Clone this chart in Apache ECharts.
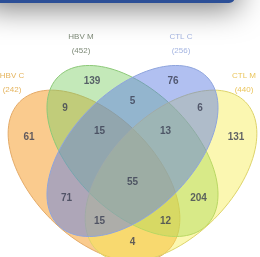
<!DOCTYPE html>
<html>
<head>
<meta charset="utf-8">
<script src="https://cdn.jsdelivr.net/npm/echarts@6/dist/echarts.min.js"></script>
<style>
  html, body { margin: 0; padding: 0; background: #fff; }
  #venn { width: 260px; height: 257px; }
</style>
</head>
<body>
<div id="venn"></div>
<script>
// sets (order: A, B, C, D)
var setNames = ["HBV C", "HBV M", "CTL C", "CTL M"];
var setTotals = [242, 452, 256, 440];
// regions: which sets a region belongs to, and its count
var regionSets = ["A", "B", "C", "D", "AB", "BC", "CD", "ABC", "BCD", "ABCD", "AC", "BD", "ACD", "ABD", "AD"];
var regionCounts = [61, 139, 76, 131, 9, 5, 6, 15, 13, 55, 71, 204, 15, 12, 4];

// look (index = set)
var fillColors = ["rgba(246,160,50,0.55)", "rgba(120,205,95,0.44)", "rgba(100,130,228,0.5)", "rgba(245,235,70,0.42)"];
var lineColors = ["#e3aa68", "#8cc878", "#8ea4dc", "#ddd36a"];
var labelColors = ["#dea136", "#5d6b55", "#8ea3da", "#e5b52f"];
var drawOrder = [0, 1, 3, 2]; // orange, green, yellow, then blue on top

// ellipse geometry in plot units (x right, y down)
var shapes = [
  { cx: 94, cy: 176, a: 105, b: 61, rot: 45 },
  { cx: 132.5, cy: 151, a: 105, b: 60, rot: 45 },
  { cx: 132.5, cy: 151, a: 105, b: 60, rot: -45 },
  { cx: 171, cy: 176, a: 105, b: 61, rot: -45 }
];
var titlePos = [[12, 76], [81, 37], [181, 37], [244, 76]];

function local(s, x, y) {
  var r = s.rot * Math.PI / 180;
  var dx = x - s.cx, dy = y - s.cy;
  return [dx * Math.cos(r) + dy * Math.sin(r), -dx * Math.sin(r) + dy * Math.cos(r)];
}
function edgeDist(s, x, y) {
  var p = local(s, x, y);
  var F = Math.sqrt(p[0] * p[0] / (s.a * s.a) + p[1] * p[1] / (s.b * s.b));
  var g = Math.sqrt(p[0] * p[0] / Math.pow(s.a, 4) + p[1] * p[1] / Math.pow(s.b, 4));
  if (g < 1e-9) return { inside: true, d: s.b };
  return { inside: F < 1, d: Math.abs(F - 1) * F / g };
}

// put each count in a wide part of its region, leaning a bit upwards
var labelData = regionSets.map(function (key, i) {
  var best = null, bestS = -1e9;
  for (var x = 2; x <= 258; x += 1.5) {
    for (var y = 2; y <= 255; y += 1.5) {
      var ok = true, dmin = Math.min(x, 260 - x, y, 257 - y);
      for (var k = 0; k < 4 && ok; k++) {
        var e = edgeDist(shapes[k], x, y);
        if (e.inside !== (key.indexOf("ABCD"[k]) >= 0)) ok = false;
        dmin = Math.min(dmin, e.d);
      }
      var score = dmin - 0.15 * y;
      if (ok && dmin > 6 && score > bestS) { bestS = score; best = [x, y]; }
    }
  }
  return [best[0], best[1], regionCounts[i]];
});

var chart = echarts.init(document.getElementById("venn"), null, { renderer: "canvas" });
chart.setOption({
  animation: false,
  grid: { left: 0, right: 0, top: 0, bottom: 0 },
  xAxis: { type: "value", min: 0, max: 260, show: false },
  yAxis: { type: "value", min: 0, max: 257, inverse: true, show: false },
  graphic: [{
    type: "rect",
    shape: { x: -20, y: -60, width: 255, height: 63, r: 6 },
    style: { fill: "#2c4f97", shadowBlur: 30, shadowColor: "rgba(0,0,0,0.5)", shadowOffsetY: 6, shadowOffsetX: 4 },
    z: 10
  }],
  series: [{
    type: "custom",
    coordinateSystem: "cartesian2d",
    data: drawOrder.map(function (k) { return [k]; }),
    renderItem: function (params, api) {
      var k = api.value(0), s = shapes[k], r = s.rot * Math.PI / 180, pts = [];
      for (var t = 0; t < 120; t++) {
        var th = t / 120 * Math.PI * 2;
        var u = s.a * Math.cos(th), v = s.b * Math.sin(th);
        pts.push(api.coord([s.cx + u * Math.cos(r) - v * Math.sin(r), s.cy + u * Math.sin(r) + v * Math.cos(r)]));
      }
      return {
        type: "polygon",
        shape: { points: pts },
        style: { fill: fillColors[k], stroke: lineColors[k], lineWidth: 1 }
      };
    },
    silent: true
  }, {
    type: "scatter",
    data: labelData,
    symbolSize: 0,
    z: 5,
    label: {
      show: true, position: "inside",
      formatter: function (p) { return p.value[2]; },
      color: "#3b3f52", fontSize: 10, fontWeight: "bold", fontFamily: "Liberation Sans"
    },
    silent: true
  }, {
    type: "scatter",
    data: titlePos.map(function (p, k) { return [p[0], p[1] + 7, k]; }),
    symbolSize: 0,
    z: 5,
    label: {
      show: true, position: "inside",
      formatter: function (p) { var k = p.value[2]; return "{t" + k + "|" + setNames[k] + "}\n{t" + k + "|(" + setTotals[k] + ")}"; },
      rich: {
        t0: { color: labelColors[0], fontSize: 8, lineHeight: 14, fontFamily: "Liberation Sans" },
        t1: { color: labelColors[1], fontSize: 8, lineHeight: 14, fontFamily: "Liberation Sans" },
        t2: { color: labelColors[2], fontSize: 8, lineHeight: 14, fontFamily: "Liberation Sans" },
        t3: { color: labelColors[3], fontSize: 8, lineHeight: 14, fontFamily: "Liberation Sans" }
      }
    },
    silent: true
  }]
});
</script>
</body>
</html>
